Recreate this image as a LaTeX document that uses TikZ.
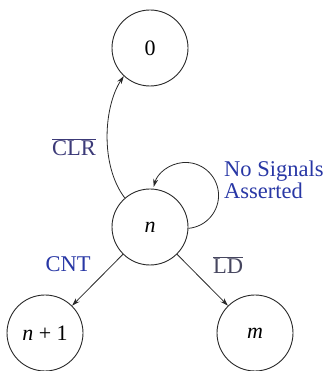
\documentclass[tikz,border=0pt]{standalone}
\usepackage{fontspec}
\setmainfont{Liberation Serif}
\usetikzlibrary{arrows.meta}
\definecolor{lblblue}{RGB}{40,55,165}
\definecolor{clrcol}{RGB}{60,58,120}
\definecolor{ldcol}{RGB}{70,70,95}
\definecolor{linecol}{RGB}{40,40,40}
\tikzset{
  state/.style={circle,draw=linecol,line width=0.9pt,minimum size=76pt,inner sep=0pt,
    font=\fontsize{22}{26}\selectfont},
  conn/.style={draw=linecol,line width=0.8pt,-{Stealth[length=8pt,width=5pt]}},
  lbl/.style={font=\fontsize{22.5}{26}\selectfont,inner sep=0pt},
}
\begin{document}
\begin{tikzpicture}[x=1pt,y=1pt]
\useasboundingbox (0,0) rectangle (325,371);
\node[state] (z0) at (150,323) {0};
\node[state] (nn) at (150,144) {\textit{n}};
\node[state] (n1) at (45,38) {\textit{n} + 1};
\node[state] (mm) at (255,38) {\textit{m}};
\draw[conn] (nn.131) .. controls +(-25,33) and +(-20,-30) .. (z0.227);
\draw[conn] (nn.-2) arc[start angle=-85,end angle=165,radius=33];
\draw[conn] (nn) -- (n1);
\draw[conn] (nn) -- (mm);
\node[lbl,text=clrcol] (lclr) at (74,224) {$\overline{\mbox{CLR}}$};
\node[lbl,text=lblblue,align=left,anchor=west] (lno) at (224,191) {No Signals\\[-4pt]Asserted};
\node[lbl,text=lblblue] (lcnt) at (68,107) {CNT};
\node[lbl,text=ldcol] (lld) at (228,106) {$\overline{\mbox{LD}}$};
\end{tikzpicture}
\end{document}
